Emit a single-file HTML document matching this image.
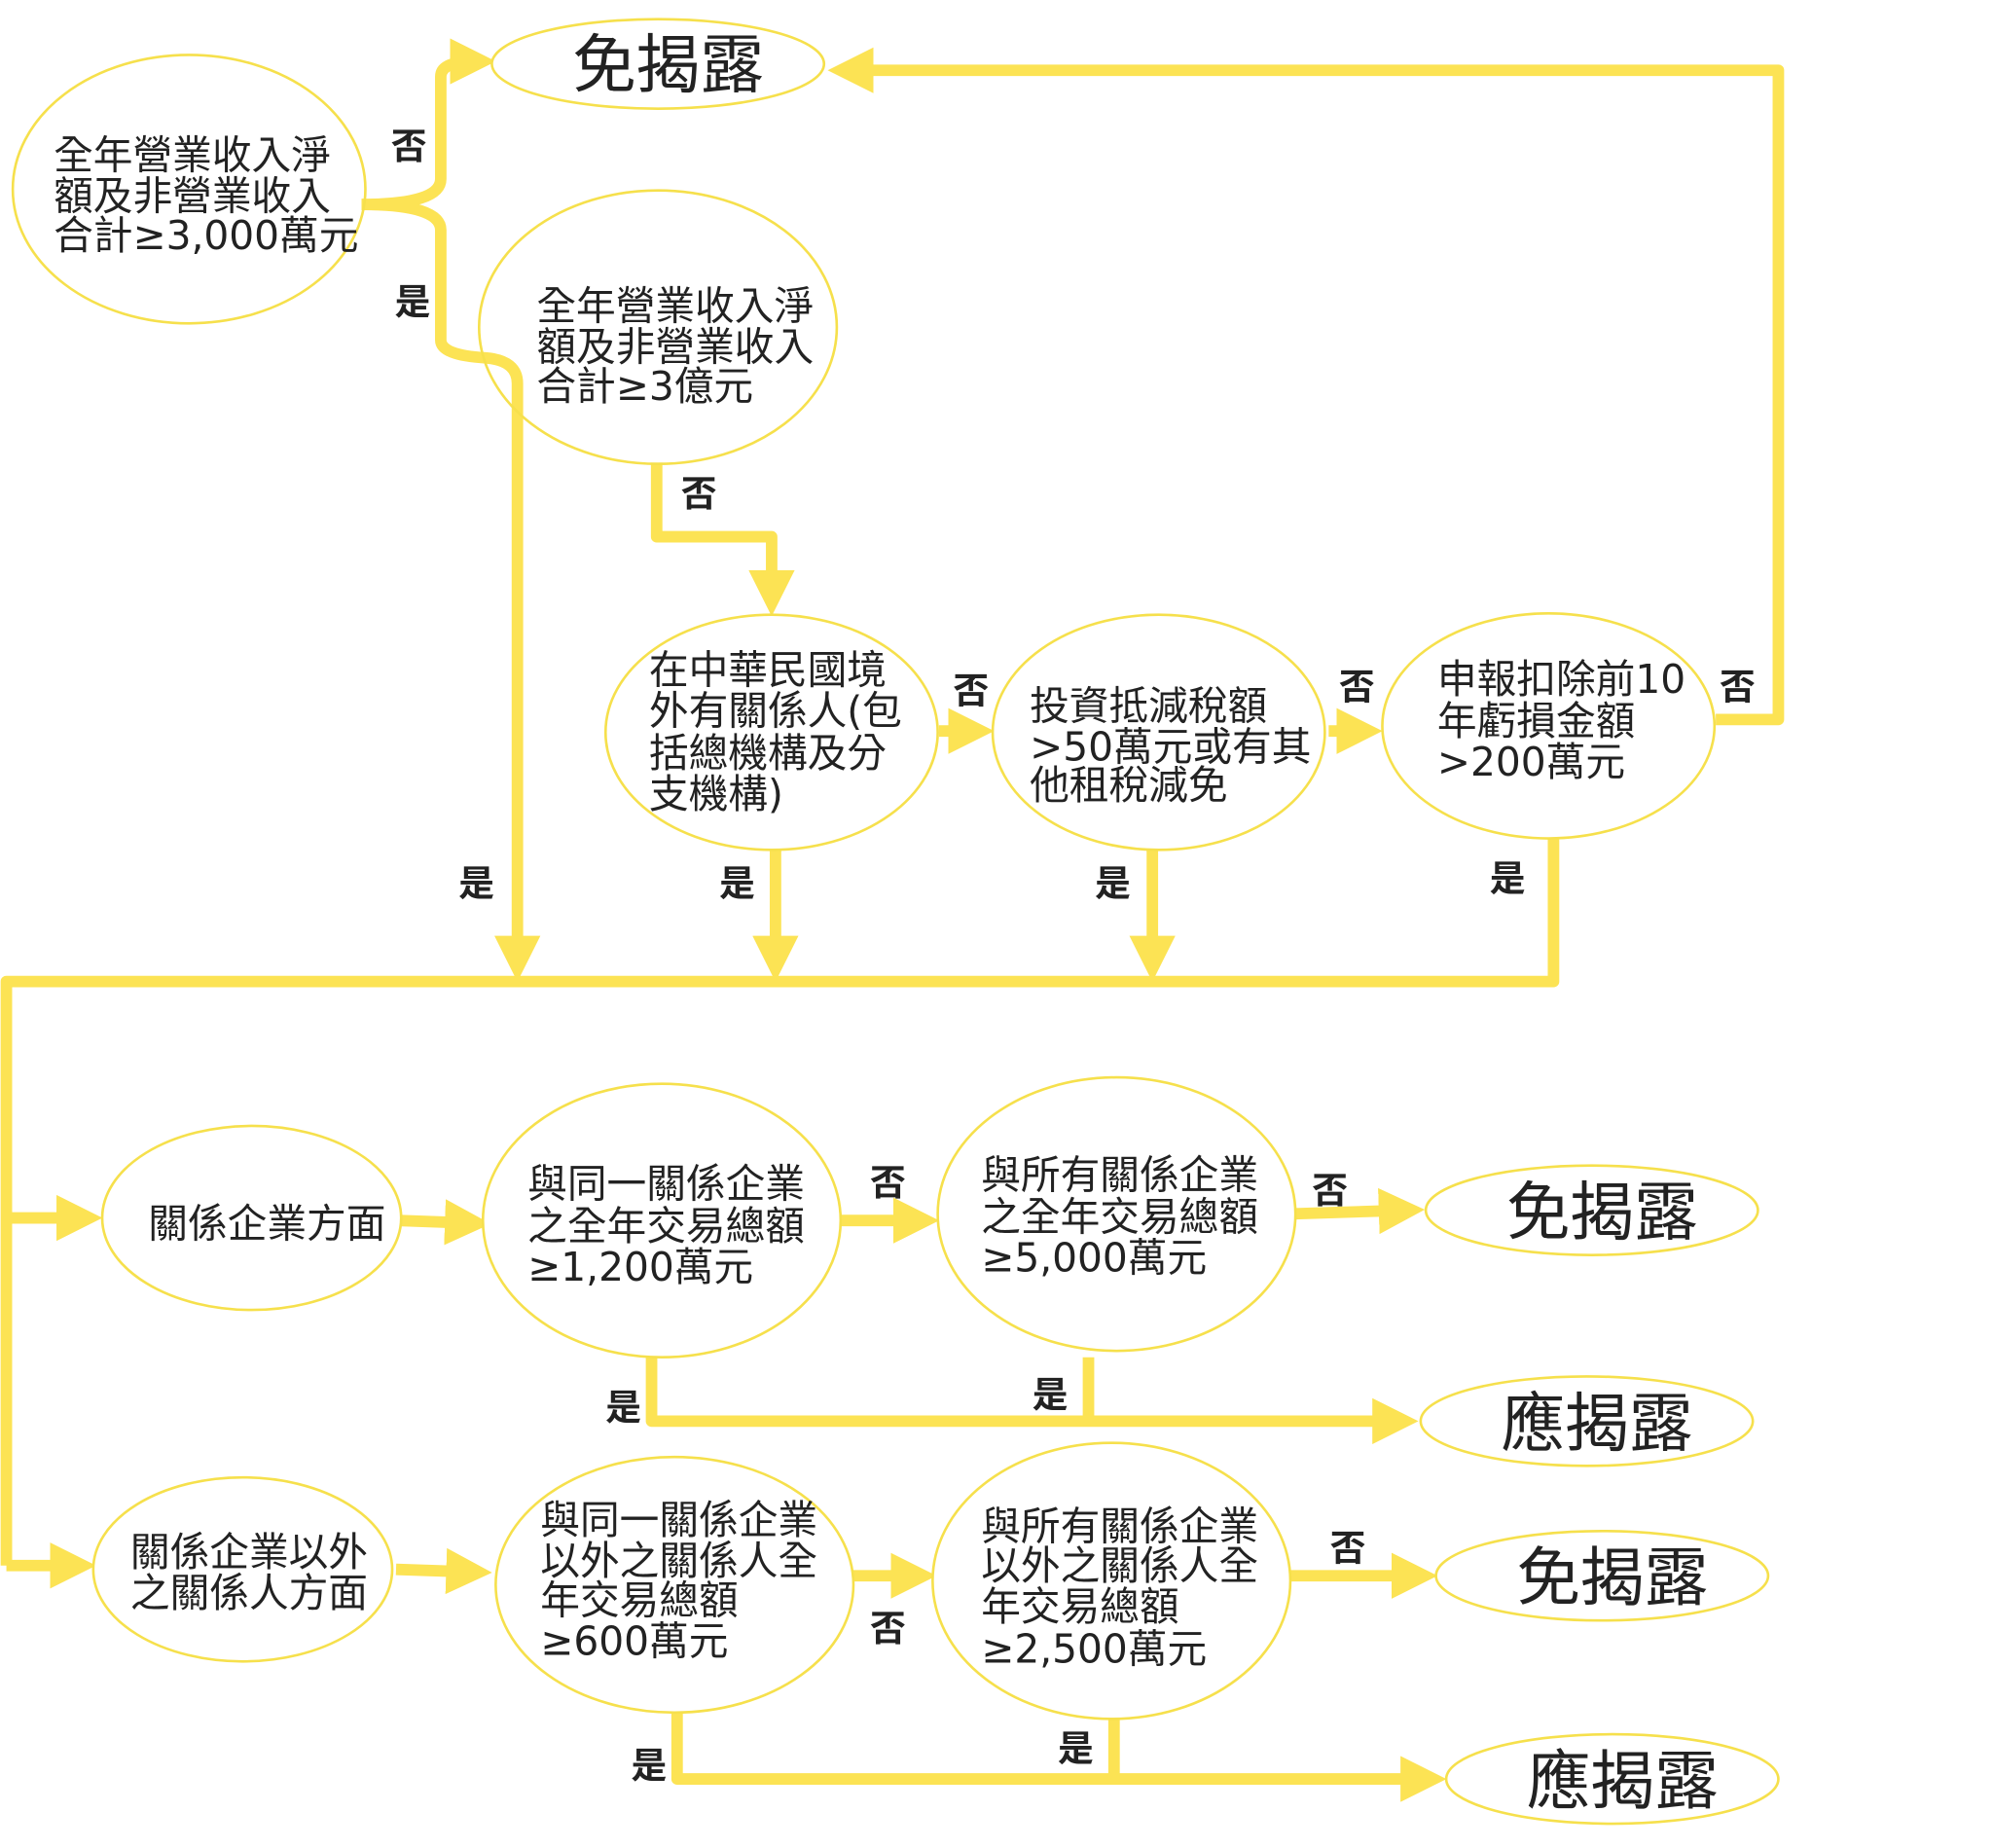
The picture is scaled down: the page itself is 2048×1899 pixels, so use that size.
<!DOCTYPE html>
<html><head><meta charset="utf-8"><style>html,body{margin:0;padding:0;background:#fff}svg{display:block}</style></head><body>
<svg width="2048" height="1899" viewBox="0 0 1560 1446" preserveAspectRatio="none" xmlns="http://www.w3.org/2000/svg" font-family="DejaVu Sans, Noto Sans CJK TC, sans-serif">
<defs><marker id="a" markerWidth="4" markerHeight="4" refX="2.2" refY="2" orient="auto" markerUnits="strokeWidth"><path d="M0,0 L4,2 L0,4 Z" fill="#fce354"/></marker></defs>
<g fill="none" stroke="#fce354" stroke-width="9" stroke-linejoin="round">
<path d="M283,160 Q345,160 345,140 L345,60 Q345,48 372,48" marker-end="url(#a)"/>
<path d="M283,160 Q345,160 345,180 L345,266 Q345,278 380,280 Q405,282 405,300 L405,752" marker-end="url(#a)"/>
<path d="M514,362 L514,420 L604,420 L604,466" marker-end="url(#a)"/>
<path d="M735,572 L762,572" marker-end="url(#a)"/>
<path d="M1040,572 L1066,572" marker-end="url(#a)"/>
<path d="M1343,563 L1392,563 L1392,55 L664,55" marker-end="url(#a)"/>
<path d="M607,662 L607,752" marker-end="url(#a)"/>
<path d="M902,662 L902,752" marker-end="url(#a)"/>
<path d="M1216,655 L1216,768 L5,768 L5,1225"/>
<path d="M5,953 L64,953" marker-end="url(#a)"/>
<path d="M5,1225 L59,1225" marker-end="url(#a)"/>
<path d="M312,955 L368,957" marker-end="url(#a)"/>
<path d="M657,955 L719,955" marker-end="url(#a)"/>
<path d="M1005,950 L1099,947" marker-end="url(#a)"/>
<path d="M510,1060 L510,1112 L1094,1112" marker-end="url(#a)"/>
<path d="M852,1062 L852,1112"/>
<path d="M310,1228 L369,1230" marker-end="url(#a)"/>
<path d="M657,1233 L717,1233" marker-end="url(#a)"/>
<path d="M1010,1233 L1109,1233" marker-end="url(#a)"/>
<path d="M530,1340 L530,1392 L1116,1392" marker-end="url(#a)"/>
<path d="M872,1343 L872,1392"/>
</g>
<g fill="#fff" stroke="#f6e04c" stroke-width="2">
<ellipse cx="148" cy="148" rx="138" ry="105" fill="none"/>
<ellipse cx="515" cy="50" rx="130" ry="35"/>
<ellipse cx="515" cy="256" rx="140" ry="107" fill="none"/>
<ellipse cx="604" cy="573" rx="130" ry="92"/>
<ellipse cx="907" cy="573" rx="130" ry="92"/>
<ellipse cx="1212" cy="568" rx="130" ry="88"/>
<ellipse cx="197" cy="953" rx="117" ry="72"/>
<ellipse cx="518" cy="955" rx="140" ry="107"/>
<ellipse cx="874" cy="950" rx="140" ry="107"/>
<ellipse cx="1246" cy="947" rx="130" ry="35"/>
<ellipse cx="1242" cy="1112" rx="130" ry="35"/>
<ellipse cx="190" cy="1228" rx="117" ry="72"/>
<ellipse cx="528" cy="1240" rx="140" ry="100"/>
<ellipse cx="870" cy="1237" rx="140" ry="108"/>
<ellipse cx="1254" cy="1233" rx="130" ry="35"/>
<ellipse cx="1262" cy="1392" rx="130" ry="35"/>
</g>
<g fill="#222" font-size="31">
<text x="42" y="132">全年營業收入淨</text><text x="42" y="164">額及非營業收入</text><text x="42" y="195">合計≥3,000萬元</text>
<text x="420" y="250">全年營業收入淨</text><text x="420" y="282">額及非營業收入</text><text x="420" y="313">合計≥3億元</text>
<text x="508" y="535">在中華民國境</text><text x="508" y="567">外有關係人(包</text><text x="508" y="600">括總機構及分</text><text x="508" y="632">支機構)</text>
<text x="806" y="563">投資抵減稅額</text><text x="806" y="595">&gt;50萬元或有其</text><text x="806" y="625">他租稅減免</text>
<text x="1125" y="542">申報扣除前10</text><text x="1125" y="575">年虧損金額</text><text x="1125" y="607">&gt;200萬元</text>
<text x="116" y="968">關係企業方面</text>
<text x="413" y="937">與同一關係企業</text><text x="413" y="970">之全年交易總額</text><text x="413" y="1002">≥1,200萬元</text>
<text x="768" y="930">與所有關係企業</text><text x="768" y="963">之全年交易總額</text><text x="768" y="995">≥5,000萬元</text>
<text x="102" y="1225">關係企業以外</text><text x="102" y="1257">之關係人方面</text>
<text x="423" y="1200">與同一關係企業</text><text x="423" y="1232">以外之關係人全</text><text x="423" y="1263">年交易總額</text><text x="423" y="1295">≥600萬元</text>
<text x="768" y="1205">與所有關係企業</text><text x="768" y="1236">以外之關係人全</text><text x="768" y="1268">年交易總額</text><text x="768" y="1301">≥2,500萬元</text>
</g>
<g fill="#222" font-size="50" text-anchor="middle">
<text x="523" y="68">免揭露</text><text x="1254" y="966">免揭露</text><text x="1250" y="1131">應揭露</text><text x="1262" y="1252">免揭露</text><text x="1270" y="1411">應揭露</text>
</g>
<g fill="#222" font-size="28" font-weight="bold" text-anchor="middle">
<text x="320" y="124">否</text><text x="323" y="246">是</text><text x="547" y="396">否</text>
<text x="760" y="550">否</text><text x="1062" y="547">否</text><text x="1360" y="547">否</text>
<text x="373" y="701">是</text><text x="577" y="701">是</text><text x="871" y="701">是</text><text x="1180" y="697">是</text>
<text x="695" y="935">否</text><text x="1041" y="941">否</text><text x="488" y="1111">是</text><text x="822" y="1101">是</text>
<text x="695" y="1284">否</text><text x="1055" y="1221">否</text><text x="508" y="1391">是</text><text x="842" y="1378">是</text>
</g>
</svg>
</body></html>
